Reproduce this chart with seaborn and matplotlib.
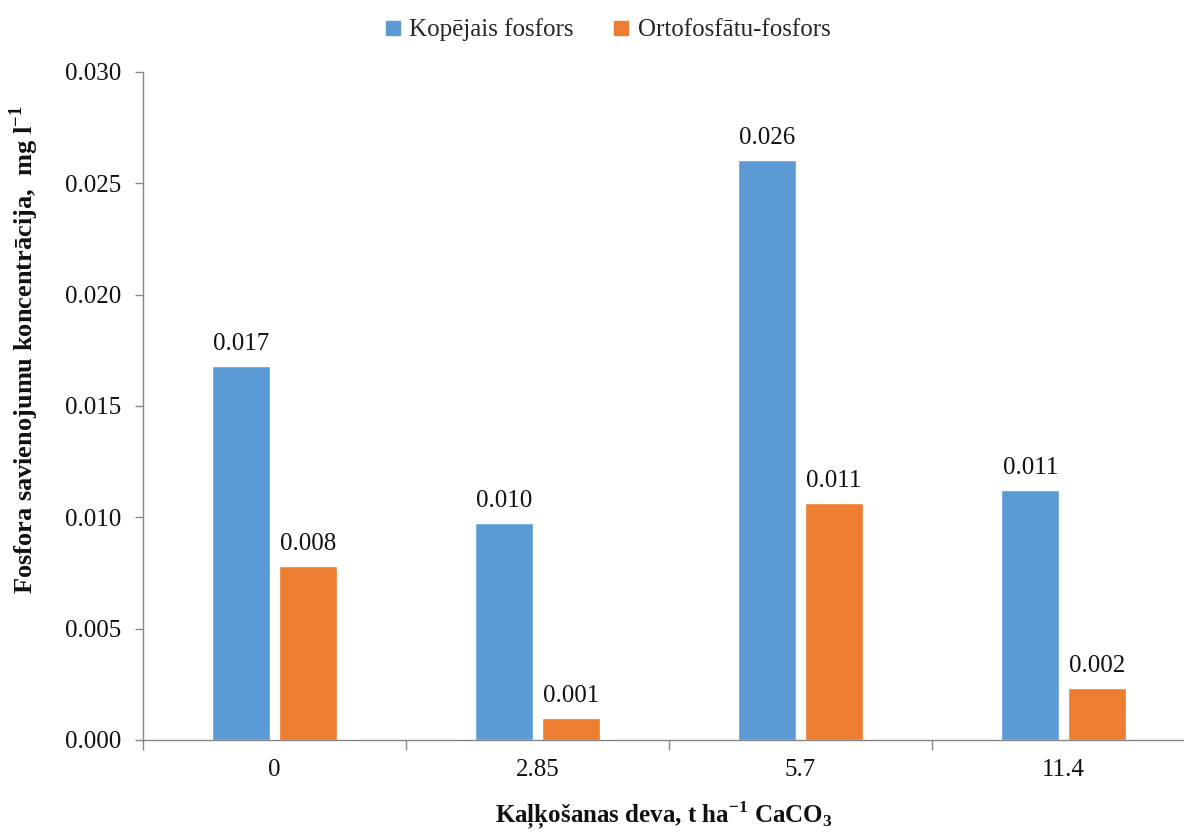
import matplotlib
matplotlib.use("Agg")
import matplotlib.pyplot as plt
import seaborn as sns
import pandas as pd
from matplotlib.lines import Line2D

# Liming doses (t/ha CaCO3)
doses = ["0", "2.85", "5.7", "11.4"]
# Phosphorus concentrations, mg/l
total_p = [0.0168, 0.00975, 0.02605, 0.01123]
ortho_p = [0.00781, 0.00099, 0.01064, 0.00234]
series_names = ["Kopējais fosfors", "Ortofosfātu-fosfors"]
y_ticks = [0.000, 0.005, 0.010, 0.015, 0.020, 0.025, 0.030]

df = pd.DataFrame({
    "deva": doses * 2,
    "vertiba": total_p + ortho_p,
    "sērija": [series_names[0]] * len(doses) + [series_names[1]] * len(doses),
})

sns.set_theme(style="white")
plt.rcParams["font.family"] = ["Liberation Serif", "DejaVu Serif"]
plt.rcParams["mathtext.fontset"] = "custom"
plt.rcParams["mathtext.rm"] = "Liberation Serif"
plt.rcParams["mathtext.bf"] = "Liberation Serif:bold"

palette = {series_names[0]: "#5B9BD5", series_names[1]: "#ED7D31"}
fs = 18

fig = plt.figure(figsize=(11.84, 8.35), dpi=100)
ax = fig.add_axes([143 / 1184, 95 / 835, 1052 / 1184, 668 / 835])

sns.barplot(data=df, x="deva", y="vertiba", hue="sērija", order=doses,
            hue_order=series_names, palette=palette, width=0.506, gap=0.13,
            saturation=1, ax=ax, legend=False)

for cont in ax.containers:
    ax.bar_label(cont, fmt="%.3f", padding=8, fontsize=fs, color="#111111")

ax.set_ylim(0, 0.030)
ax.set_xlim(-0.5, len(doses) - 0.5)
ax.set_yticks(y_ticks)
ax.set_yticklabels([f"{t:.3f}" for t in y_ticks], fontsize=fs, color="#111111")
ax.tick_params(axis="y", which="major", direction="out", length=6, width=1,
               color="#868686", pad=10, left=True)
ax.tick_params(axis="x", which="major", length=0, labelsize=fs, pad=14,
               labelcolor="#111111")
ax.set_xticks([i - 0.5 for i in range(len(doses) + 1)], minor=True)
ax.tick_params(axis="x", which="minor", direction="out", length=7, width=1,
               color="#868686", bottom=True)

for side in ["top", "right"]:
    ax.spines[side].set_visible(False)
for side in ["left", "bottom"]:
    ax.spines[side].set_color("#868686")
    ax.spines[side].set_linewidth(1)

ax.set_xlabel(r"Kaļķošanas deva, t ha$^{\mathbf{-1}}$ CaCO$_{\mathbf{3}}$",
              fontsize=fs, fontweight="bold", color="#111111")
ax.xaxis.label.set_va("center")
ax.xaxis.set_label_coords((664 - 143) / 1052, -(815 - 740) / 668)
ax.set_ylabel(r"Fosfora savienojumu koncentrācija,  mg l$^{\mathbf{-1}}$",
              fontsize=19, fontweight="bold", color="#111111")
ax.yaxis.label.set_va("center")
ax.yaxis.set_label_coords(-(143 - 24) / 1052, (740 - 350) / 668)

handles = [Line2D([0], [0], marker="s", linestyle="none", markersize=10,
                  markerfacecolor=palette[n], markeredgecolor=palette[n])
           for n in series_names]
fig.legend(handles, series_names, loc="upper center", ncol=2,
           bbox_to_anchor=(608 / 1184, 1.005), frameon=False, fontsize=fs,
           handlelength=0.6, handletextpad=0.35, columnspacing=1.6)

fig.savefig("out.png", dpi=100)
